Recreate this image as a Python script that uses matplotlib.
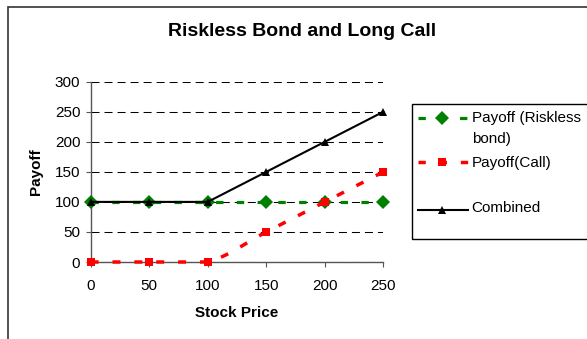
import numpy as np
import matplotlib
matplotlib.use("Agg")
import matplotlib.pyplot as plt
from matplotlib.lines import Line2D
from matplotlib.patches import Rectangle

plt.rcParams['font.family'] = ['Liberation Sans', 'DejaVu Sans']

stock_price = [0, 50, 100, 150, 200, 250]
bond_payoff = [100, 100, 100, 100, 100, 100]
call_payoff = [0, 0, 0, 50, 100, 150]
combined_payoff = [100, 100, 100, 150, 200, 250]
series_names = ['Payoff (Riskless\nbond)', 'Payoff(Call)', 'Combined']

W, H = 587, 339
GREEN = '#008000'
RED = '#ff0000'


def fx(x):
    return x / W


def fy(y):
    return 1 - y / H


def smooth(xs, ys, steps=24):
    # catmull-rom through the points, flat runs stay flat
    p = np.column_stack([xs, ys]).astype(float)
    p = np.vstack([p[0], p, p[-1]])
    t = np.linspace(0, 1, steps)[:, None]
    out = []
    for i in range(1, len(p) - 2):
        p0, p1, p2, p3 = p[i - 1], p[i], p[i + 1], p[i + 2]
        if p1[1] == p2[1]:
            seg = p1 + (p2 - p1) * t
        else:
            seg = 0.5 * (2 * p1 + (-p0 + p2) * t
                         + (2 * p0 - 5 * p1 + 4 * p2 - p3) * t ** 2
                         + (-p0 + 3 * p1 - 3 * p2 + p3) * t ** 3)
        out.append(seg if i == 1 else seg[1:])
    out = np.vstack(out)
    return out[:, 0], out[:, 1]


fig = plt.figure(figsize=(W / 100, H / 100), dpi=100)

ax_l, ax_r, ax_t, ax_b = 90.6, 383.4, 81.7, 262.0
ax = fig.add_axes([fx(ax_l), fy(ax_b), (ax_r - ax_l) / W, (ax_b - ax_t) / H])
ax.set_xlim(0, 250)
ax.set_ylim(0, 300)
ax.set_xticks(stock_price)
ax.set_yticks(range(0, 301, 50))
ax.yaxis.grid(True, color='black', linewidth=0.75, linestyle=(0, (7.7, 4.8)))
ax.set_axisbelow(True)
for s in ('top', 'right'):
    ax.spines[s].set_visible(False)
for s in ('left', 'bottom'):
    ax.spines[s].set_color('#555555')
    ax.spines[s].set_linewidth(1.0)
ax.tick_params(direction='out', length=3.4, width=0.8, color='#555555',
               labelsize=11, pad=4.0)
ax.tick_params(axis='x', pad=8.5)

# bond
ax.plot(stock_price, bond_payoff, color=GREEN, lw=2.3, dashes=(2.3, 4.2),
        marker='D', ms=7.1, mew=0, clip_on=False, zorder=3)
# call, smoothed
cx, cy = smooth(stock_price, call_payoff)
ax.plot(cx, cy, color=RED, lw=2.5, dashes=(2.3, 4.0), clip_on=False, zorder=4)
ax.plot(stock_price, call_payoff, ls='none', marker='s', ms=5.6, mew=0,
        color=RED, clip_on=False, zorder=4)
# combined
ax.plot(stock_price, combined_payoff, color='black', lw=1.5, marker='^',
        ms=6, mew=0, clip_on=False, zorder=5)

ax.set_xlabel('Stock Price', fontsize=11, fontweight='bold')
ax.xaxis.set_label_coords(0.5, (ax_b - 313.3) / (ax_b - ax_t))
ax.xaxis.label.set_va('center')
ax.set_ylabel('Payoff', fontsize=11, fontweight='bold')
ax.yaxis.set_label_coords((35.6 - ax_l) / (ax_r - ax_l), 0.5)
ax.yaxis.label.set_va('center')

fig.text(fx(302.5), fy(31.7), 'Riskless Bond and Long Call', fontsize=14,
         fontweight='bold', ha='center', va='center')

# chart border
fig.add_artist(Rectangle((fx(8.3), fy(400)), fx(700 - 8.3), (400 - 7.3) / H,
                         transform=fig.transFigure, fill=False,
                         ec='#333333', lw=1.2))

# legend
fig.add_artist(Rectangle((fx(411.8), fy(239)), fx(700 - 411.8), (239 - 104) / H,
                         transform=fig.transFigure, fill=False,
                         ec='black', lw=1.0))
handle_rows = [117.5, 161.7, 209.5]
text_rows = [116.5, 161.7, 206.7]
styles = [
    dict(color=GREEN, lw=2.3, dashes=(2.3, 4.2), marker='D', ms=7.1),
    dict(color=RED, lw=2.5, dashes=(2.1, 4.0), marker='s', ms=5.6),
    dict(color='black', lw=1.5, marker='^', ms=6),
]
for hy, ty, st, name in zip(handle_rows, text_rows, styles, series_names):
    st = dict(st)
    mk, ms = st.pop('marker'), st.pop('ms')
    fig.add_artist(Line2D([fx(417.8), fx(468.3)], [fy(hy), fy(hy)],
                          transform=fig.transFigure, **st))
    fig.add_artist(Line2D([fx(442.0)], [fy(hy)], transform=fig.transFigure,
                          ls='none', marker=mk, ms=ms, mew=0, color=st['color']))
    for k, line in enumerate(name.split('\n')):
        fig.text(fx(471.7), fy(ty + 5.5 + 21 * k), line, fontsize=11,
                 va='baseline', ha='left')

fig.savefig('out.png', dpi=100)
